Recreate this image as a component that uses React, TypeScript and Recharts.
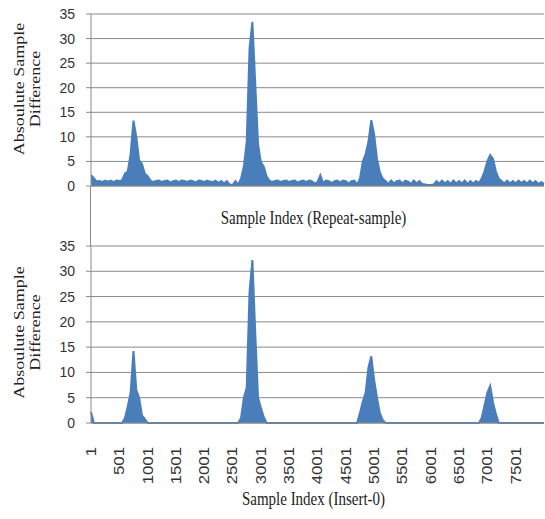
import { AreaChart, Area, XAxis, YAxis, CartesianGrid } from 'recharts';

// one value every 50 samples
const sampleStep = 50;

const repeatSample = [
  2.2, 1.6, 0.9, 1.0, 0.8, 1.1, 0.9, 1.1, 0.8, 1.1,
  1.0, 1.2, 2.5, 3.0, 6.5, 13.3, 10.0, 5.2, 4.5, 2.5,
  2.0, 1.1, 0.8, 1.0, 1.1, 0.8, 1.0, 1.1, 0.7, 1.0,
  1.1, 0.8, 1.1, 1.0, 0.8, 1.1, 1.0, 0.7, 1.1, 1.0,
  0.8, 1.1, 0.9, 0.8, 1.1, 0.6, 1.0, 0.5, 1.0, 0.3,
  0.2, 1.0, 0.3, 1.5, 4.0, 9.0, 28.0, 33.4, 21.0, 8.5,
  4.8, 4.0, 2.0, 1.1, 0.8, 1.0, 1.1, 0.8, 1.0, 1.1,
  0.8, 1.0, 1.1, 0.7, 1.0, 1.1, 0.8, 1.1, 1.0, 0.5,
  0.8, 2.2, 0.6, 1.1, 1.0, 0.6, 1.0, 1.1, 0.7, 1.1,
  1.0, 0.5, 1.0, 1.1, 0.3, 1.5, 5.0, 6.5, 9.0, 13.4,
  10.5, 5.5, 2.8, 1.5, 1.0, 0.4, 1.1, 0.5, 1.0, 1.1,
  0.5, 1.1, 0.9, 0.4, 1.1, 0.5, 1.0, 0.4, 0.3, 0.2,
  0.2, 0.3, 1.0, 0.5, 1.1, 0.5, 1.0, 0.4, 1.1, 0.5,
  1.0, 0.5, 1.1, 0.4, 1.0, 0.5, 1.0, 0.6, 1.5, 3.0,
  5.0, 6.3, 5.5, 3.0, 1.5, 1.0, 0.5, 1.1, 0.5, 1.0,
  0.5, 1.1, 0.6, 1.0, 0.5, 1.1, 0.5, 1.0, 0.4, 0.8,
  0.5,
];

const insertZero = [
  2.2, 0, 0, 0, 0, 0, 0, 0, 0, 0,
  0, 0, 1, 3.3, 6, 14.2, 6.5, 5, 1.5, 0.8,
  0, 0, 0, 0, 0, 0, 0, 0, 0, 0,
  0, 0, 0, 0, 0, 0, 0, 0, 0, 0,
  0, 0, 0, 0, 0, 0, 0, 0, 0, 0,
  0, 0, 0, 1, 5, 7, 26, 32.2, 18, 5,
  3, 1.2, 0, 0, 0, 0, 0, 0, 0, 0,
  0, 0, 0, 0, 0, 0, 0, 0, 0, 0,
  0, 0, 0, 0, 0, 0, 0, 0, 0, 0,
  0, 0, 0, 0, 0, 2, 4.2, 6, 11, 13.2,
  8.5, 5, 2, 0.6, 0, 0, 0, 0, 0, 0,
  0, 0, 0, 0, 0, 0, 0, 0, 0, 0,
  0, 0, 0, 0, 0, 0, 0, 0, 0, 0,
  0, 0, 0, 0, 0, 0, 0, 0, 1, 3.5,
  6, 7.3, 4, 1.8, 0, 0, 0, 0, 0, 0,
  0, 0, 0, 0, 0, 0, 0, 0, 0, 0,
  0,
];

const yTicks = [0, 5, 10, 15, 20, 25, 30, 35];
const xTicks = [1, 501, 1001, 1501, 2001, 2501, 3001, 3501, 4001, 4501, 5001, 5501, 6001, 6501, 7001, 7501];
const yTitleLines = ['Absoulute Sample', 'Difference'];
const topTitle = 'Sample Index (Repeat-sample)';
const bottomTitle = 'Sample Index (Insert-0)';

const BLUE = '#4a7ebb';
const GREY = '#8a8a8a';
const SERIF = '"Liberation Serif", "Times New Roman", serif';
const SANS = '"Liberation Sans", Arial, sans-serif';

const toRows = (values: number[]) =>
  values.map((value, i) => ({ sample: 1 + i * sampleStep, value }));

const yTitle = (shift: number) => (props: any) => {
  const { viewBox } = props;
  const cy = viewBox.y + viewBox.height / 2 + shift;
  return (
    <g transform={`translate(${viewBox.x + 24},${cy}) rotate(-90) scale(1.2,1)`}>
      <text fontFamily={SERIF} fontSize={15} fill="#222" textAnchor="middle">
        <tspan x={0} y={0}>{yTitleLines[0]}</tspan>
        <tspan x={0} y={16}>{yTitleLines[1]}</tspan>
      </text>
    </g>
  );
};

const xTitle = (text: string, drop: number) => (props: any) => {
  const { viewBox } = props;
  const cx = viewBox.x + viewBox.width / 2 - 4;
  return (
    <g transform={`translate(${cx},${viewBox.y + drop}) scale(1,1.2)`}>
      <text fontFamily={SERIF} fontSize={15} fill="#222" textAnchor="middle" dy="0.35em">
        {text}
      </text>
    </g>
  );
};

const RotatedTick = (props: any) => {
  const { x, y, payload } = props;
  return (
    <g transform={`translate(${x},${y + 24}) rotate(-90) scale(1.2,1)`}>
      <text fontFamily={SANS} fontSize={14} fill="#333" textAnchor="end" dy="0.35em">
        {payload.value}
      </text>
    </g>
  );
};

function Panel({ values, height, top, children }: any) {
  return (
    <div style={{ position: 'absolute', left: 0, top }}>
      <AreaChart
        width={545}
        height={height}
        data={toRows(values)}
        margin={{ top: 14, right: 1, left: 0, bottom: 0 }}
      >
        <CartesianGrid vertical={false} stroke={GREY} strokeWidth={1} />
        {children}
        <YAxis
          dataKey="value"
          domain={[0, 35]}
          ticks={yTicks}
          interval={0}
          width={91}
          axisLine={{ stroke: GREY }}
          tickLine={{ stroke: GREY }}
          tickSize={5}
          tickMargin={11}
          tick={{ fontFamily: SANS, fontSize: 14, fill: '#333' }}
          label={{ content: yTitle(height > 260 ? -2 : -11) }}
        />
        <Area
          type="linear"
          dataKey="value"
          stroke={BLUE}
          strokeWidth={2}
          fill={BLUE}
          fillOpacity={1}
          dot={false}
          activeDot={false}
          isAnimationActive={false}
        />
      </AreaChart>
    </div>
  );
}

export default function App() {
  return (
    <div style={{ position: 'absolute', left: 0, top: 0, width: 545, height: 519, background: '#fff', overflow: 'hidden' }}>
      <Panel values={repeatSample} height={246} top={0}>
        <XAxis
          dataKey="sample"
          type="number"
          domain={[1, 8001]}
          height={60}
          tick={false}
          tickLine={false}
          axisLine={{ stroke: GREY }}
          label={{ content: xTitle(topTitle, 32) }}
        />
      </Panel>
      {/* vertical axis keeps going between the two panels */}
      <div style={{ position: 'absolute', left: 90, top: 186, width: 0, height: 60, borderLeft: `1px solid ${GREY}` }} />
      <Panel values={insertZero} height={287} top={232}>
        <XAxis
          dataKey="sample"
          type="number"
          domain={[1, 8001]}
          ticks={xTicks}
          interval={0}
          height={96}
          tickLine={false}
          tickSize={0}
          tickMargin={0}
          axisLine={{ stroke: GREY }}
          tick={<RotatedTick />}
          label={{ content: xTitle(bottomTitle, 76) }}
        />
      </Panel>
    </div>
  );
}
